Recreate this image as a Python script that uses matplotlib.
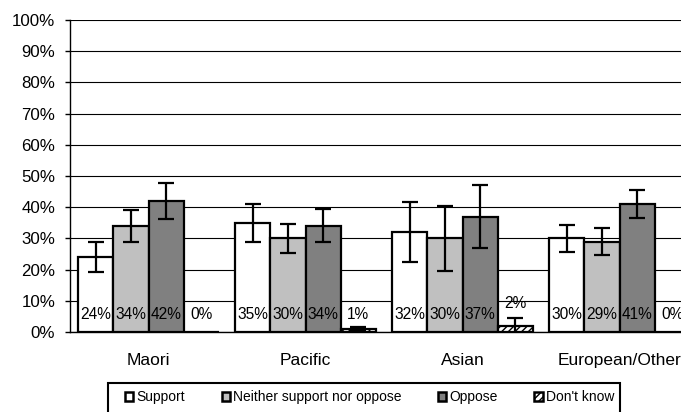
import numpy as np
import matplotlib
matplotlib.use("Agg")
import matplotlib.pyplot as plt
from matplotlib.patches import Patch, Rectangle

plt.rcParams['font.family'] = ['Liberation Sans', 'DejaVu Sans']
plt.rcParams['hatch.linewidth'] = 1.0

# data (percent)
groups = ["Maori", "Pacific", "Asian", "European/Other"]
series_names = ["Support", "Neither support nor oppose", "Oppose", "Don't know"]
support = [24, 35, 32, 30]
neither = [34, 30, 30, 29]
oppose = [42, 34, 37, 41]
dont_know = [0, 1, 2, 0]
# half width of the error bars
support_err = [4.7, 6.0, 9.7, 4.4]
neither_err = [5.2, 4.7, 10.3, 4.4]
oppose_err = [5.7, 5.3, 10.2, 4.4]
dont_know_err = [0, 0.5, 2.6, 0]

values = [support, neither, oppose, dont_know]
errors = [support_err, neither_err, oppose_err, dont_know_err]
colors = ["white", "#c0c0c0", "#808080", "white"]
hatches = [None, None, None, "/////"]

fig = plt.figure(figsize=(6.81, 4.12), dpi=100)
# plot area runs past the right edge, as in the reference
ax = fig.add_axes([70 / 681., 1 - 332 / 412., 628 / 681., 312 / 412.])

bar_width = 0.223
x = np.arange(len(groups)) + 0.5

for j in range(4):
    xpos = x + (j - 1.5) * bar_width
    ax.bar(xpos, values[j], bar_width, color=colors[j], edgecolor="black",
           linewidth=1.6, hatch=hatches[j], zorder=2)
    err = np.array(errors[j])
    mask = err > 0
    ax.errorbar(xpos[mask], np.array(values[j])[mask], yerr=err[mask], fmt="none",
                ecolor="black", elinewidth=1.6, capsize=5.8, capthick=1.6, zorder=3)
    for k in range(len(groups)):
        # value labels near the bottom, above the error bar for tiny bars
        label_y = max(5.7, values[j][k] + errors[j][k] + 4.4) if errors[j][k] > 1 and values[j][k] < 5 else 5.7
        ax.text(xpos[k], label_y, "%d%%" % values[j][k], ha="center", va="center",
                fontsize=11.2, zorder=4)

ax.set_xlim(0, 4)
ax.set_ylim(0, 100)
ax.set_yticks(np.arange(0, 101, 10))
ax.set_yticklabels(["%d%%" % v for v in range(0, 101, 10)], fontsize=12.2)
ax.set_xticks(x)
ax.set_xticklabels(groups, fontsize=12.5)
ax.tick_params(axis="x", length=0, pad=15)
ax.tick_params(axis="y", length=3.6, width=1.0, pad=7, direction="out")
ax.yaxis.grid(True, color="black", linewidth=0.8, zorder=0)
ax.set_axisbelow(True)
for side in ["top", "right"]:
    ax.spines[side].set_visible(False)
ax.spines["left"].set_linewidth(1.0)
ax.spines["bottom"].set_linewidth(1.0)

# legend box (its bottom is cut by the image edge in the reference)
fig.patches.append(Rectangle((108 / 681., -10 / 412.), 512 / 681., 39 / 412.,
                             transform=fig.transFigure, facecolor="white",
                             edgecolor="black", linewidth=1.5))
handles = [Patch(facecolor=colors[j], edgecolor="black", linewidth=1.8, hatch=hatches[j])
           for j in range(4)]
leg = fig.legend(handles, series_names, loc="upper left", ncol=4,
                 bbox_to_anchor=(125 / 681., 1 - 390 / 412.), fontsize=10,
                 frameon=False, handlelength=0.6, handleheight=0.6,
                 handletextpad=0.25, columnspacing=2.6, borderpad=0, borderaxespad=0)

plt.savefig("out.png", dpi=100)
